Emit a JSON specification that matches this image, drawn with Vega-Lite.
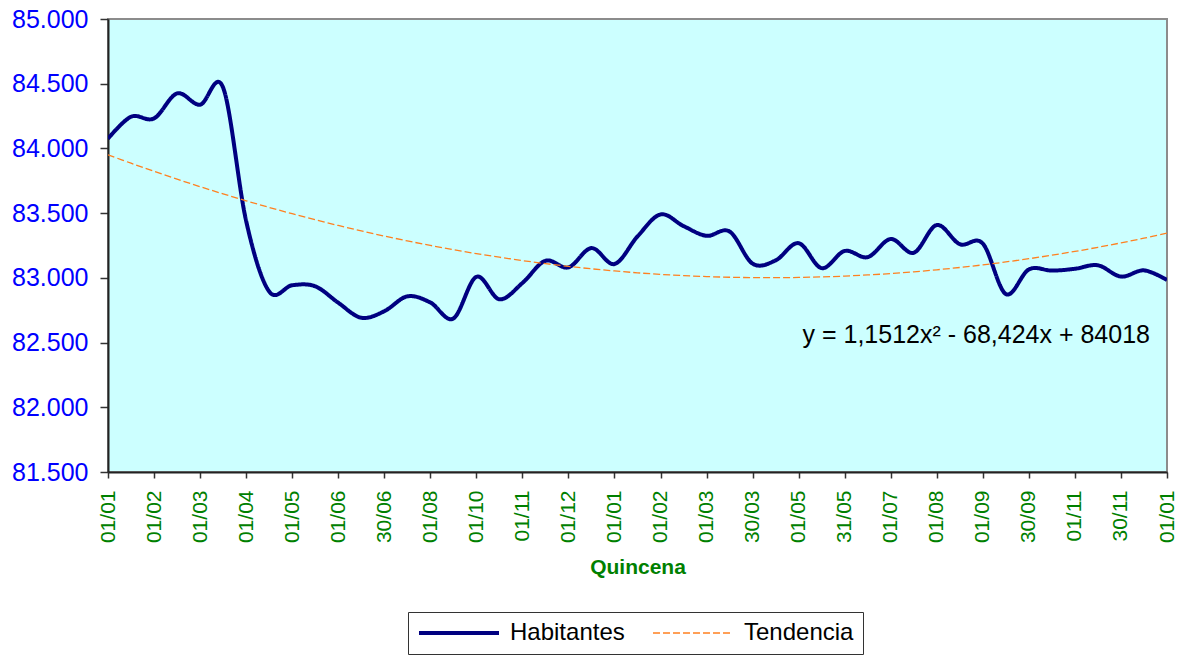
{
  "$schema": "https://vega.github.io/schema/vega-lite/v6.json",
  "width": 1059,
  "height": 453,
  "autosize": "none",
  "padding": {"left": 108, "top": 19, "right": 13, "bottom": 183},
  "background": "white",
  "config": {
    "font": "Liberation Sans",
    "view": {"fill": "#CCFFFF", "stroke": "#8c8c8c", "strokeWidth": 2}
  },
  "datasets": {
    "serie": [
      {"i": 1, "Habitantes": 84075, "Tendencia": 83950.7},
      {"i": 2, "Habitantes": 84245, "Tendencia": 83885.8},
      {"i": 3, "Habitantes": 84232, "Tendencia": 83823.1},
      {"i": 4, "Habitantes": 84425, "Tendencia": 83762.7},
      {"i": 5, "Habitantes": 84338, "Tendencia": 83704.7},
      {"i": 6, "Habitantes": 84470, "Tendencia": 83648.9},
      {"i": 7, "Habitantes": 83440, "Tendencia": 83595.4},
      {"i": 8, "Habitantes": 82895, "Tendencia": 83544.3},
      {"i": 9, "Habitantes": 82943, "Tendencia": 83495.4},
      {"i": 10, "Habitantes": 82935, "Tendencia": 83448.9},
      {"i": 11, "Habitantes": 82808, "Tendencia": 83404.6},
      {"i": 12, "Habitantes": 82692, "Tendencia": 83362.7},
      {"i": 13, "Habitantes": 82742, "Tendencia": 83323.0},
      {"i": 14, "Habitantes": 82857, "Tendencia": 83285.7},
      {"i": 15, "Habitantes": 82810, "Tendencia": 83250.7},
      {"i": 16, "Habitantes": 82686, "Tendencia": 83217.9},
      {"i": 17, "Habitantes": 83008, "Tendencia": 83187.5},
      {"i": 18, "Habitantes": 82835, "Tendencia": 83159.4},
      {"i": 19, "Habitantes": 82960, "Tendencia": 83133.5},
      {"i": 20, "Habitantes": 83132, "Tendencia": 83110.0},
      {"i": 21, "Habitantes": 83081, "Tendencia": 83088.8},
      {"i": 22, "Habitantes": 83230, "Tendencia": 83069.9},
      {"i": 23, "Habitantes": 83107, "Tendencia": 83053.2},
      {"i": 24, "Habitantes": 83320, "Tendencia": 83038.9},
      {"i": 25, "Habitantes": 83490, "Tendencia": 83026.9},
      {"i": 26, "Habitantes": 83400, "Tendencia": 83017.2},
      {"i": 27, "Habitantes": 83325, "Tendencia": 83009.8},
      {"i": 28, "Habitantes": 83358, "Tendencia": 83004.7},
      {"i": 29, "Habitantes": 83110, "Tendencia": 83001.9},
      {"i": 30, "Habitantes": 83135, "Tendencia": 83001.4},
      {"i": 31, "Habitantes": 83268, "Tendencia": 83003.2},
      {"i": 32, "Habitantes": 83075, "Tendencia": 83007.3},
      {"i": 33, "Habitantes": 83208, "Tendencia": 83013.7},
      {"i": 34, "Habitantes": 83160, "Tendencia": 83022.4},
      {"i": 35, "Habitantes": 83300, "Tendencia": 83033.4},
      {"i": 36, "Habitantes": 83194, "Tendencia": 83046.7},
      {"i": 37, "Habitantes": 83408, "Tendencia": 83062.3},
      {"i": 38, "Habitantes": 83260, "Tendencia": 83080.2},
      {"i": 39, "Habitantes": 83265, "Tendencia": 83100.4},
      {"i": 40, "Habitantes": 82875, "Tendencia": 83123.0},
      {"i": 41, "Habitantes": 83065, "Tendencia": 83147.8},
      {"i": 42, "Habitantes": 83056, "Tendencia": 83174.9},
      {"i": 43, "Habitantes": 83070, "Tendencia": 83204.3},
      {"i": 44, "Habitantes": 83097, "Tendencia": 83236.1},
      {"i": 45, "Habitantes": 83010, "Tendencia": 83270.1},
      {"i": 46, "Habitantes": 83058, "Tendencia": 83306.4},
      {"i": 47, "Habitantes": 82983, "Tendencia": 83345.1}
    ],
    "ecuacion": [
      {"i": 47, "v": 82497, "t": "y = 1,1512x² - 68,424x + 84018"}
    ]
  },
  "layer": [
    {
      "data": {"name": "serie"},
      "transform": [{"fold": ["Habitantes", "Tendencia"], "as": ["serie", "v"]}],
      "mark": {"type": "line", "interpolate": "cardinal", "clip": true},
      "encoding": {
        "x": {
          "field": "i",
          "type": "quantitative",
          "scale": {"domain": [1, 47], "nice": false, "zero": false},
          "axis": {
            "title": "Quincena",
            "titleColor": "#008000",
            "titleFontSize": 21,
            "titleFontWeight": "bold",
            "titlePadding": 14,
            "values": [1,2,3,4,5,6,7,8,9,10,11,12,13,14,15,16,17,18,19,20,21,22,23,24,25,26,27,28,29,30,31,32,33,34,35,36,37,38,39,40,41,42,43,44,45,46,47],
            "labelExpr": "datum.value % 2 == 1 ? ['01/01','01/02','01/03','01/04','01/05','01/06','30/06','01/08','01/10','01/11','01/12','01/01','01/02','01/03','30/03','01/05','31/05','01/07','01/08','01/09','30/09','01/11','30/11','01/01'][(datum.value - 1) / 2] : ''",
            "labelAngle": 270,
            "labelColor": "#008000",
            "labelFontSize": 21,
            "labelPadding": 12,
            "labelOverlap": false,
            "labelFlush": false,
            "labelBound": false,
            "tickSize": 6,
            "tickColor": "#333333",
            "tickWidth": 1.5,
            "domainColor": "#222222",
            "domainWidth": 2,
            "grid": false
          }
        },
        "y": {
          "field": "v",
          "type": "quantitative",
          "scale": {"domain": [81500, 85000], "nice": false, "zero": false},
          "axis": {
            "title": null,
            "values": [81500, 82000, 82500, 83000, 83500, 84000, 84500, 85000],
            "labelExpr": "replace(format(datum.value, ','), ',', '.')",
            "labelColor": "#0000FF",
            "labelFontSize": 25,
            "labelPadding": 12,
            "tickSize": 8,
            "tickColor": "#333333",
            "tickWidth": 1.5,
            "domainColor": "#222222",
            "domainWidth": 2,
            "grid": false
          }
        },
        "color": {
          "field": "serie",
          "type": "nominal",
          "scale": {"domain": ["Habitantes", "Tendencia"], "range": ["#000080", "#FF8020"]},
          "legend": {
            "title": null,
            "orient": "none",
            "legendX": 300,
            "legendY": 593,
            "direction": "horizontal",
            "strokeColor": "#333333",
            "fillColor": "white",
            "padding": 9,
            "symbolType": "M-1,0H7",
            "symbolSize": 400,
            "labelFontSize": 24,
            "labelColor": "black",
            "labelOffset": 69,
            "columnPadding": 25
          }
        },
        "strokeDash": {
          "field": "serie",
          "type": "nominal",
          "scale": {"domain": ["Habitantes", "Tendencia"], "range": [[1, 0], [7, 3]]},
          "legend": {"title": null}
        },
        "strokeWidth": {
          "field": "serie",
          "type": "nominal",
          "scale": {"domain": ["Habitantes", "Tendencia"], "range": [4, 1.3]},
          "legend": {"title": null}
        }
      }
    },
    {
      "data": {"name": "ecuacion"},
      "mark": {"type": "text", "align": "right", "baseline": "alphabetic", "dx": -17, "fontSize": 25, "color": "black"},
      "encoding": {
        "x": {"field": "i", "type": "quantitative"},
        "y": {"field": "v", "type": "quantitative"},
        "text": {"field": "t"}
      }
    }
  ]
}
